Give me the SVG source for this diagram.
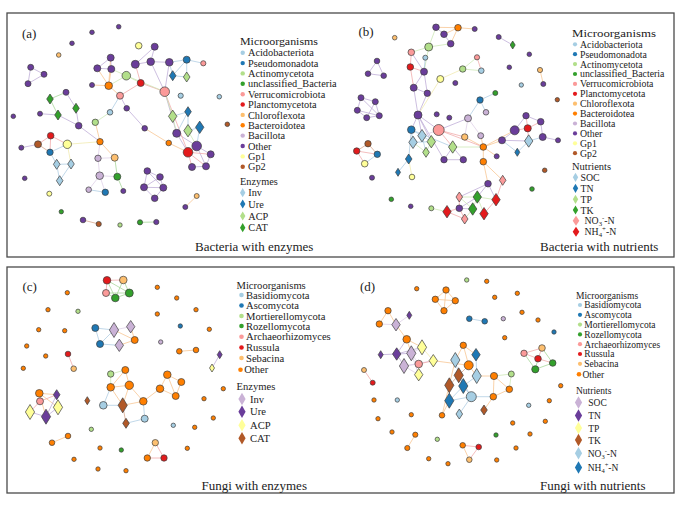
<svg xmlns="http://www.w3.org/2000/svg" xmlns:xlink="http://www.w3.org/1999/xlink" width="685" height="513" viewBox="0 0 685 513">
<style>
.t{font-family:"Liberation Serif","Times New Roman",serif;fill:#222}
.n{stroke:#3d3d3d;stroke-width:.7}
.A{fill:#a6cee3}.B{fill:#1f78b4}.G{fill:#b2df8a}.H{fill:#33a02c}.P{fill:#fb9a99}.R{fill:#e31a1c}.L{fill:#fdbf6f}.O{fill:#ff7f00}.V{fill:#cab2d6}.U{fill:#6a3d9a}.Y{fill:#ffff99}.W{fill:#b15928}
#edges path{fill:none;stroke-width:.9;opacity:.8}
.eu{stroke:#b9a6d4}.eo{stroke:#f7c089}.eg{stroke:#c8e6b0}.eb{stroke:#a9c9e0}.er{stroke:#f0a3a3}.ey{stroke:#efe9a8}.ew{stroke:#d4a084}.ev{stroke:#dccde6}.eh{stroke:#9fd28f}
.frame{fill:#fff;stroke:#4a4a4a;stroke-width:1.3}
</style>
<defs>
<path id="d0" d="M0,-4L2.5,0L0,4L-2.5,0Z"/>
<path id="d1" d="M0,-5L3.3,0L0,5L-3.3,0Z"/>
<path id="d2" d="M0,-6.2L4.2,0L0,6.2L-4.2,0Z"/>
<path id="d3" d="M0,-7.5L4.6,0L0,7.5L-4.6,0Z"/>
<path id="dl" d="M0,-4.6L2.7,0L0,4.6L-2.7,0Z"/>
<path id="dL" d="M0,-6.3L3.6,0L0,6.3L-3.6,0Z"/>
</defs>
<rect width="685" height="513" fill="#fff"/>
<rect class="frame" x="7" y="13" width="667" height="244"/>
<rect class="frame" x="7" y="267" width="667" height="226"/>

<g id="edges">
<!-- panel a -->
<path class="eu" d="M30.7,67.3L44,74.3M44,74.3L28,83.7M30.7,67.3L28,83.7M110.7,57.7L97.3,68.3M110.7,57.7L111.3,69M97.3,68.3L111.3,69M135.3,64.3L150.7,61.7M154.7,46.7L150.7,61.7M154.7,46.7L135.3,64.3M150.7,61.7L169.3,62.3M150.7,61.7L164.7,91.7M169.3,62.3L164.7,91.7M120,95.7L126.7,108.3M126.7,108.3L144.7,128.3M164.7,91.7L176.7,133.3M66,92.3L76,108.3M76,108.3L78.7,125.7M40,113.7L58,115M58,115L78.7,125.7M78.7,125.7L100,141.7M21.3,147.7L38,144.3M176.7,133.3L188,152.3M196.7,146L210.7,154.3M196.7,146L206,166.3M192,167L206,166.3M210.7,154.3L206,166.3M176.7,133.3L196.7,146M147.3,171L160,177M147.3,171L144,187.3M160,177L163.3,187.7M144,187.3L163.3,187.7M144,187.3L154.7,198.3M163.3,187.7L154.7,198.3M147.3,171L163.3,187.7M160,177L144,187.3"/>
<path class="er" d="M135.3,64.3L140.7,83M140.7,83L120,95.7M140.7,83L164.7,91.7M164.7,91.7L188,152.3M50.7,135.7L38,144.3M50.7,135.7L67.3,144.3M50.7,135.7L50,152.3M196.7,146L188,152.3M188,152.3L192,167M188,152.3L210.7,154.3M188,152.3L206,166.3"/>
<path class="eb" d="M169.3,62.3L186.7,59.7M186.7,59.7L203.3,63.3M186.7,59.7L172.7,75.7M186.7,59.7L186.7,77M172.7,75.7L186.7,77M169.3,62.3L172.7,75.7M120,95.7L110,112.3M50,152.3L67.3,144.3M56.7,164.3L71,164M56.7,164.3L59.7,180.7M71,164L59.7,180.7M50,152.3L56.7,164.3M88.7,189.7L105.3,192.3M188,111.7L172.7,116.3M188,111.7L176.7,133.3M188,111.7L188,130.7M188,130.7L199.7,127.3M199.7,127.3L196.7,146"/>
<path class="eo" d="M97.3,68.3L108.7,85.7M111.3,69L108.7,85.7M110.7,57.7L108.7,85.7M108.7,85.7L92,85M120,95.7L108.7,85.7M95.3,122.3L100,141.7M144.7,128.3L168.7,143M168.7,143L188,152.3M100,141.7L114.7,157.7M196.7,196L185.3,207"/>
<path class="eg" d="M111.3,69L126.3,75.7M108.7,85.7L126.3,75.7M126.3,75.7L140.7,83M110,112.3L95.3,122.3M164.7,91.7L172.7,116.3M172.7,116.3L176.7,133.3M188,130.7L196.7,146M126.3,75.7L164.7,91.7"/>
<path class="eh" d="M50,99L66,92.3M50,99L58,115M114.7,157.7L117.3,176.7M117.3,176.7L123.3,191M140,222.3L156.3,222"/>
<path class="ew" d="M38,144.3L50,152.3M83,220L98.7,224"/>
<path class="ey" d="M100,141.7L67.3,144.3M71,164L67.3,144.3"/>
<path class="ev" d="M100,141.7L98,158.3M98,158.3L114.7,157.7M98,158.3L99.7,175.7M99.7,175.7L117.3,176.7M99.7,175.7L105.3,192.3M88.7,189.7L99.7,175.7"/>
<!-- panel b -->
<path class="eu" d="M436,27.3L444,34.3M444,34.3L450.7,43.7M411.3,52.3L424,71.7M424,71.7L413.7,87.7M424,71.7L427.3,93.3M413.7,87.7L427.3,93.3M413.7,87.7L418,115M427.3,93.3L418,115M498.7,37L512.7,45M377,61L368,73.7M368,73.7L383.7,75.7M377,61L383.7,75.7M361,97.7L375.3,101.7M361,97.7L357.3,110.3M375.3,101.7L366.7,117.7M375.3,101.7L379.3,115.7M357.3,110.3L366.7,117.7M357.3,110.3L379.3,115.7M366.7,117.7L379.3,115.7M361,97.7L379.3,115.7M418,115L411.3,129.7M418,115L422,135.7M418,115L438.7,130M418,115L431.3,141.7M418,115L444,159.7M438.7,130L468,118.3M444,159.7L452.7,147M463.3,159.7L452.7,147M444,159.7L463.3,159.7M488,183.7L459.3,197M488,183.7L477.3,197M488,183.7L496,199.7M477.3,197L459.3,208.3M459.3,208.3L472.7,209M526,115.7L540.7,121.7M526,115.7L514.7,130.3M540.7,121.7L542.7,137M514.7,130.3L502,140.3M542.7,137L558,140.3M502,140.3L528.7,141"/>
<path class="eo" d="M436,27.3L458,27.7M458,27.7L474.7,29M458,27.7L450.7,43.7M444,34.3L458,27.7M540,70L543.3,84M480.7,135.7L483.3,147M464.7,137L483.3,147M483.3,147L502,140.3M483.3,147L514.7,130.3M483.3,147L496.7,156.3M483.3,147L483.3,161.7M483.3,161.7L488,183.7M483.3,161.7L502.7,180.3"/>
<path class="eg" d="M436,27.3L428.7,47M428.7,47L450.7,43.7M428.7,47L411.3,52.3M428.7,47L424,71.7M462.7,69L477,57.3M462.7,69L481.3,70.7M426,152.3L413,142.3M431.3,141.7L426,152.3M452.7,147L483.3,147M459.3,197L477.3,197M459.3,197L472.7,209M477.3,197L496,199.7M477.3,197L472.7,209M477.3,197L484,213.7M472.7,209L464.7,219M431.3,208.3L447,211.7"/>
<path class="er" d="M411.3,52.3L410.3,67M410.3,67L424,71.7M410.3,67L413.7,87.7M477,57.3L481.3,70.7M438.7,130L464.7,137M438.7,130L483.3,147M438.7,130L452.7,147M514.7,130.3L527.7,128.3M526,115.7L527.7,128.3M540.7,121.7L527.7,128.3M527.7,128.3L528.7,141M356.7,151L377.3,154.3M356.7,151L364.7,163.7M502.7,180.3L496,199.7M459.3,197L459.3,208.3M447,211.7L459.3,208.3M459.3,208.3L464.7,219M496,199.7L484,213.7M447,211.7L464.7,219"/>
<path class="eb" d="M425.3,57.7L424,71.7M495.3,93L480,100M480,100L486,112.3M480,100L468,118.3M411.3,129.7L422,135.7M411.3,129.7L413,142.3M411.3,129.7L452.7,147M422,135.7L431.3,141.7M413,142.3L431.3,141.7M422,135.7L426,152.3M411.3,129.7L408.7,159M408.7,159L398,172.3M542.7,137L528.7,141M502,140.3L517.3,152.3M528.7,141L517.3,152.3M377.3,154.3L364.7,163.7"/>
<path class="ey" d="M462.7,69L440.3,79M440.3,79L418,115M412,177L408.7,159"/>
<path class="ev" d="M468,118.3L464.7,137M468,118.3L480.7,135.7M438.7,130L422,135.7"/>
<path class="ew" d="M368,143.7L356.7,151M368,143.7L377.3,154.3"/>
<!-- panel c -->
<path class="er" d="M107,280.3L123.3,280M107,280.3L106,293M68,354L73.7,368.7M40,401.3L56.7,394.7M40,401.3L30,412M155.3,442.7L164,458M147.3,458L164,458"/>
<path class="eh" d="M107,280.3L115.3,298M107,280.3L129.3,293M123.3,280L129.3,293M123.3,280L115.3,298M106,293L115.3,298M115.3,298L129.3,293M106,293L129.3,293"/>
<path class="eb" d="M95.3,328L100,344M95.3,328L114,330M100,344L114,330M100,344L119.3,345.3M103.3,405.3L110.7,387.3M103.3,405.3L122.7,405.3M143.3,401.3L144.7,418.7M144.7,418.7L126,423.3"/>
<path class="eo" d="M114,330L134.7,340M130.7,326.7L134.7,340M119.3,345.3L134.7,340M179.3,351.3L196,350M125.3,370L110.7,387.3M125.3,370L129.3,385.3M110.7,387.3L129.3,385.3M110.7,387.3L122.7,405.3M129.3,385.3L143.3,401.3M129.3,385.3L122.7,405.3M122.7,405.3L143.3,401.3M143.3,401.3L160,388.7M160,388.7L167.3,374.7M160,388.7L175.7,396M167.3,374.7L181.3,382M181.3,382L175.7,396M167.3,374.7L175.7,396M39.3,393.3L56.7,394.7M39.3,393.3L58,407.3M39.3,393.3L46,416.7M52,442.7L68,436M155.3,442.7L147.3,458"/>
<path class="ev" d="M114,330L130.7,326.7"/>
<path class="eu" d="M219.7,354.7L212,368M30,412L46,416.7M46,416.7L58,407.3M56.7,394.7L46,416.7"/>
<path class="eg" d="M110.7,374L125.3,370M110.7,374L110.7,387.3"/>
<path class="ew" d="M122.7,405.3L126,423.3"/>
<!-- panel d -->
<path class="eo" d="M446,290L435.3,299.3M446,290L455.3,300.7M435.3,299.3L444,310.7M455.3,300.7L444,310.7M446,290L444,310.7M435.3,299.3L455.3,300.7M388,310.7L379.3,324M388,310.7L396,324.7M396,324.7L406.7,339.3M406.7,339.3L422,347.3M406.7,339.3L411.3,353.3M433.3,360.7L468.7,365.3M463.3,345.3L476,354.7M463.3,345.3L455.3,360M463.3,345.3L468.7,365.3M468.7,365.3L476.7,376M476.7,376L494,376M449.3,400.7L442,415.3M493.3,396.7L484,410M455.3,360L442,415.3M494,376L493.3,396.7M509.3,389.3L493.3,396.7M494,376L509.3,389.3M462.7,445.3L469.3,459.7M415.3,434.7L407.3,448"/>
<path class="ev" d="M379.3,324L396,324.7M396,324.7L409.3,315.3M404,366L418.7,364M411.3,353.3L418.7,364M411.3,353.3L418.7,374.7M404,366L433.3,360.7M411.3,353.3L422,347.3M404,366L418.7,374.7"/>
<path class="eb" d="M469.3,318.7L484.7,321.3M455.3,360L458.7,375.3M458.7,375.3L463.3,386M476.7,376L463.3,386M463.3,386L449.3,400.7M471.3,396.7L463.3,386M471.3,396.7L449.3,400.7M471.3,396.7L493.3,396.7M471.3,396.7L459.3,414M476,354.7L476.7,376M458.7,375.3L471.3,396.7"/>
<path class="eu" d="M380.7,354.7L396.7,354M396.7,354L411.3,353.3M396.7,354L422,347.3M396.7,354L404,366M406.7,339.3L396.7,354"/>
<path class="er" d="M418.7,364L433.3,360.7M364,370L372.7,382.7M524,353.3L542,348M524,353.3L538,358.7M542,348L538,358.7M538,358.7L552.7,363M462.7,445.3L478.7,447M478.7,447L469.3,459.7"/>
<path class="ey" d="M422,347.3L433.3,360.7"/>
<path class="ew" d="M468.7,365.3L458.7,375.3M458.7,375.3L449.3,385.3M449.3,385.3L449.3,400.7"/>
<path class="eg" d="M494,376L511.3,374M511.3,374L509.3,389.3"/>
<path class="eh" d="M524,353.3L535.3,369.3M542,348L552.7,363M535.3,369.3L552.7,363M538,358.7L535.3,369.3"/>
</g>

<g id="panel-a-nodes">
<g id="a1"><circle class="n U" cx="118.7" cy="26.7" r="2.3"/></g>
<g id="a2"><circle class="n U" cx="92" cy="32.3" r="2.3"/></g>
<g id="a3"><circle class="n U" cx="72" cy="43.3" r="2.3"/></g>
<g id="a4"><circle class="n L" cx="58.7" cy="55" r="2.3"/></g>
<g id="a5"><circle class="n U" cx="30.7" cy="67.3" r="3"/></g>
<g id="a6"><circle class="n U" cx="44" cy="74.3" r="3"/></g>
<g id="a7"><circle class="n U" cx="28" cy="83.7" r="3"/></g>
<g id="a8"><circle class="n Y" cx="138.7" cy="45.7" r="3.3"/></g>
<g id="a9"><circle class="n U" cx="154.7" cy="46.7" r="3.5"/></g>
<g id="a10"><circle class="n U" cx="110.7" cy="57.7" r="3.5"/></g>
<g id="a11"><circle class="n U" cx="97.3" cy="68.3" r="3.5"/></g>
<g id="a12"><circle class="n U" cx="111.3" cy="69" r="3.5"/></g>
<g id="a13"><circle class="n U" cx="135.3" cy="64.3" r="4"/></g>
<g id="a14"><circle class="n U" cx="150.7" cy="61.7" r="3.8"/></g>
<g id="a15"><circle class="n U" cx="169.3" cy="62.3" r="3.8"/></g>
<g id="a16"><circle class="n B" cx="186.7" cy="59.7" r="3.5"/></g>
<g id="a17"><circle class="n P" cx="203.3" cy="63.3" r="2.6"/></g>
<g id="a18"><circle class="n G" cx="126.3" cy="75.7" r="4.3"/></g>
<g id="a19"><circle class="n R" cx="140.7" cy="83" r="3.5"/></g>
<g id="a20"><use href="#d1" x="172.7" y="75.7" class="n B"/></g>
<g id="a21"><use href="#d1" x="186.7" y="77" class="n G"/></g>
<g id="a22"><circle class="n U" cx="92" cy="85" r="2.5"/></g>
<g id="a23"><circle class="n O" cx="108.7" cy="85.7" r="3.8"/></g>
<g id="a24"><circle class="n P" cx="120" cy="95.7" r="3.5"/></g>
<g id="a25"><circle class="n P" cx="164.7" cy="91.7" r="4.8"/></g>
<g id="a26"><circle class="n A" cx="180.7" cy="95.7" r="2.6"/></g>
<g id="a27"><circle class="n A" cx="219.3" cy="96.7" r="2.3"/></g>
<g id="a28"><use href="#d1" x="50" y="99" class="n H"/></g>
<g id="a29"><circle class="n U" cx="66" cy="92.3" r="3"/></g>
<g id="a30"><use href="#d1" x="76" y="108.3" class="n H"/></g>
<g id="a31"><use href="#d1" x="58" y="115" class="n H"/></g>
<g id="a32"><circle class="n U" cx="40" cy="113.7" r="2.5"/></g>
<g id="a33"><circle class="n U" cx="13.3" cy="116.3" r="2.3"/></g>
<g id="a34"><circle class="n U" cx="78.7" cy="125.7" r="3.3"/></g>
<g id="a35"><circle class="n U" cx="126.7" cy="108.3" r="2.8"/></g>
<g id="a36"><circle class="n A" cx="110" cy="112.3" r="2.8"/></g>
<g id="a37"><circle class="n G" cx="95.3" cy="122.3" r="3.2"/></g>
<g id="a38"><use href="#d2" x="172.7" y="116.3" class="n G"/></g>
<g id="a39"><use href="#d1" x="188" y="111.7" class="n B"/></g>
<g id="a40"><circle class="n U" cx="144.7" cy="128.3" r="2.8"/></g>
<g id="a41"><circle class="n U" cx="176.7" cy="133.3" r="4"/></g>
<g id="a42"><use href="#d2" x="188" y="130.7" class="n G"/></g>
<g id="a43"><use href="#d2" x="199.7" y="127.3" class="n B"/></g>
<g id="a44"><circle class="n W" cx="227.3" cy="124.3" r="2.3"/></g>
<g id="a45"><circle class="n R" cx="50.7" cy="135.7" r="3.3"/></g>
<g id="a46"><circle class="n W" cx="38" cy="144.3" r="3.5"/></g>
<g id="a47"><circle class="n U" cx="21.3" cy="147.7" r="2.5"/></g>
<g id="a48"><circle class="n Y" cx="67.3" cy="144.3" r="4.2"/></g>
<g id="a49"><circle class="n B" cx="50" cy="152.3" r="3.2"/></g>
<g id="a50"><circle class="n O" cx="100" cy="141.7" r="3.2"/></g>
<g id="a51"><circle class="n O" cx="168.7" cy="143" r="2.8"/></g>
<g id="a52"><circle class="n U" cx="196.7" cy="146" r="4.8"/></g>
<g id="a53"><circle class="n R" cx="188" cy="152.3" r="4.8"/></g>
<g id="a54"><circle class="n U" cx="210.7" cy="154.3" r="3.5"/></g>
<g id="a55"><circle class="n U" cx="192" cy="167" r="3.5"/></g>
<g id="a56"><circle class="n U" cx="206" cy="166.3" r="3.5"/></g>
<g id="a57"><use href="#d1" x="56.7" y="164.3" class="n A"/></g>
<g id="a58"><use href="#d1" x="71" y="164" class="n A"/></g>
<g id="a59"><use href="#d1" x="59.7" y="180.7" class="n A"/></g>
<g id="a60"><circle class="n V" cx="98" cy="158.3" r="3.2"/></g>
<g id="a61"><circle class="n L" cx="114.7" cy="157.7" r="3.5"/></g>
<g id="a62"><circle class="n V" cx="99.7" cy="175.7" r="3.8"/></g>
<g id="a63"><circle class="n H" cx="117.3" cy="176.7" r="3.5"/></g>
<g id="a64"><circle class="n V" cx="88.7" cy="189.7" r="2.8"/></g>
<g id="a65"><circle class="n B" cx="105.3" cy="192.3" r="3.2"/></g>
<g id="a66"><circle class="n U" cx="123.3" cy="191" r="2.5"/></g>
<g id="a67"><circle class="n U" cx="147.3" cy="171" r="3.3"/></g>
<g id="a68"><circle class="n U" cx="160" cy="177" r="3.3"/></g>
<g id="a69"><circle class="n U" cx="144" cy="187.3" r="3.5"/></g>
<g id="a70"><circle class="n U" cx="163.3" cy="187.7" r="3.5"/></g>
<g id="a71"><circle class="n U" cx="154.7" cy="198.3" r="3.3"/></g>
<g id="a72"><circle class="n U" cx="24.7" cy="178.3" r="2.3"/></g>
<g id="a73"><circle class="n Y" cx="49.3" cy="193.7" r="2.5"/></g>
<g id="a74"><circle class="n L" cx="196.7" cy="196" r="2.5"/></g>
<g id="a75"><circle class="n U" cx="185.3" cy="207" r="2.5"/></g>
<g id="a76"><circle class="n H" cx="61.3" cy="211.7" r="2.2"/></g>
<g id="a77"><circle class="n U" cx="83" cy="220" r="2.8"/></g>
<g id="a78"><circle class="n W" cx="98.7" cy="224" r="2.6"/></g>
<g id="a79"><circle class="n G" cx="120" cy="225" r="2.2"/></g>
<g id="a80"><circle class="n H" cx="140" cy="222.3" r="2.6"/></g>
<g id="a81"><circle class="n U" cx="156.3" cy="222" r="2.6"/></g>
</g>

<g id="panel-b-nodes">
<g id="b1"><circle class="n U" cx="436" cy="27.3" r="3.3"/></g>
<g id="b2"><circle class="n O" cx="458" cy="27.7" r="3.3"/></g>
<g id="b3"><circle class="n U" cx="474.7" cy="29" r="2.5"/></g>
<g id="b4"><circle class="n L" cx="394.7" cy="37.7" r="2.3"/></g>
<g id="b5"><circle class="n U" cx="444" cy="34.3" r="3.3"/></g>
<g id="b6"><circle class="n U" cx="450.7" cy="43.7" r="3.3"/></g>
<g id="b7"><circle class="n G" cx="428.7" cy="47" r="4"/></g>
<g id="b8"><circle class="n P" cx="411.3" cy="52.3" r="3.3"/></g>
<g id="b9"><circle class="n A" cx="425.3" cy="57.7" r="2.5"/></g>
<g id="b10"><circle class="n R" cx="410.3" cy="67" r="3.3"/></g>
<g id="b11"><circle class="n U" cx="424" cy="71.7" r="3.5"/></g>
<g id="b12"><circle class="n U" cx="498.7" cy="37" r="2.5"/></g>
<g id="b13"><use href="#d0" x="512.7" y="45" class="n H"/></g>
<g id="b14"><circle class="n U" cx="529.3" cy="54.3" r="2.3"/></g>
<g id="b15"><circle class="n U" cx="377" cy="61" r="2.8"/></g>
<g id="b16"><circle class="n U" cx="368" cy="73.7" r="2.8"/></g>
<g id="b17"><circle class="n U" cx="383.7" cy="75.7" r="2.8"/></g>
<g id="b18"><circle class="n P" cx="477" cy="57.3" r="2.6"/></g>
<g id="b19"><circle class="n G" cx="462.7" cy="69" r="3.2"/></g>
<g id="b20"><circle class="n A" cx="481.3" cy="70.7" r="2.8"/></g>
<g id="b21"><circle class="n Y" cx="440.3" cy="79" r="3.5"/></g>
<g id="b22"><circle class="n U" cx="455.3" cy="83" r="2.5"/></g>
<g id="b23"><circle class="n U" cx="509.3" cy="67.3" r="2.3"/></g>
<g id="b24"><circle class="n L" cx="540" cy="70" r="2.6"/></g>
<g id="b25"><circle class="n A" cx="521.3" cy="85" r="2.2"/></g>
<g id="b26"><circle class="n U" cx="543.3" cy="84" r="2.5"/></g>
<g id="b27"><circle class="n U" cx="413.7" cy="87.7" r="3.5"/></g>
<g id="b28"><circle class="n U" cx="427.3" cy="93.3" r="3.2"/></g>
<g id="b29"><circle class="n H" cx="495.3" cy="93" r="2.5"/></g>
<g id="b30"><circle class="n B" cx="480" cy="100" r="3.2"/></g>
<g id="b31"><circle class="n W" cx="557.3" cy="99.7" r="2.2"/></g>
<g id="b32"><circle class="n U" cx="361" cy="97.7" r="3"/></g>
<g id="b33"><circle class="n U" cx="375.3" cy="101.7" r="3"/></g>
<g id="b34"><circle class="n U" cx="357.3" cy="110.3" r="3"/></g>
<g id="b35"><circle class="n U" cx="366.7" cy="117.7" r="3"/></g>
<g id="b36"><circle class="n U" cx="379.3" cy="115.7" r="3"/></g>
<g id="b37"><circle class="n V" cx="486" cy="112.3" r="2.8"/></g>
<g id="b38"><circle class="n U" cx="418" cy="115" r="4"/></g>
<g id="b39"><circle class="n U" cx="436.7" cy="114.3" r="2.5"/></g>
<g id="b40"><circle class="n U" cx="449.3" cy="117.7" r="2.5"/></g>
<g id="b41"><circle class="n V" cx="468" cy="118.3" r="3.5"/></g>
<g id="b42"><circle class="n P" cx="438.7" cy="130" r="5.5"/></g>
<g id="b43"><circle class="n B" cx="411.3" cy="129.7" r="3.8"/></g>
<g id="b44"><use href="#d2" x="422" y="135.7" class="n A"/></g>
<g id="b45"><use href="#d2" x="413" y="142.3" class="n A"/></g>
<g id="b46"><use href="#d2" x="431.3" y="141.7" class="n G"/></g>
<g id="b47"><use href="#d1" x="426" y="152.3" class="n G"/></g>
<g id="b48"><use href="#d2" x="452.7" y="147" class="n G"/></g>
<g id="b49"><use href="#d1" x="408.7" y="159" class="n B"/></g>
<g id="b50"><use href="#d0" x="398" y="172.3" class="n B"/></g>
<g id="b51"><circle class="n Y" cx="412" cy="177" r="2.8"/></g>
<g id="b52"><circle class="n L" cx="464.7" cy="137" r="3.2"/></g>
<g id="b53"><circle class="n V" cx="480.7" cy="135.7" r="3"/></g>
<g id="b54"><circle class="n O" cx="483.3" cy="147" r="3.3"/></g>
<g id="b55"><circle class="n U" cx="496.7" cy="156.3" r="2.5"/></g>
<g id="b56"><circle class="n U" cx="444" cy="159.7" r="3.2"/></g>
<g id="b57"><circle class="n U" cx="463.3" cy="159.7" r="3.2"/></g>
<g id="b58"><circle class="n O" cx="483.3" cy="161.7" r="3.3"/></g>
<g id="b59"><circle class="n U" cx="526" cy="115.7" r="3.2"/></g>
<g id="b60"><circle class="n U" cx="540.7" cy="121.7" r="3.3"/></g>
<g id="b61"><circle class="n U" cx="514.7" cy="130.3" r="4.5"/></g>
<g id="b62"><circle class="n R" cx="527.7" cy="128.3" r="3.6"/></g>
<g id="b63"><circle class="n U" cx="502" cy="140.3" r="3.5"/></g>
<g id="b64"><use href="#d2" x="528.7" y="141" class="n A"/></g>
<g id="b65"><circle class="n U" cx="542.7" cy="137" r="3.5"/></g>
<g id="b66"><circle class="n U" cx="558" cy="140.3" r="2.5"/></g>
<g id="b67"><use href="#d0" x="517.3" y="152.3" class="n B"/></g>
<g id="b68"><circle class="n W" cx="544.7" cy="170.3" r="2.3"/></g>
<g id="b69"><circle class="n W" cx="368" cy="143.7" r="3.2"/></g>
<g id="b70"><circle class="n R" cx="356.7" cy="151" r="3.2"/></g>
<g id="b71"><circle class="n B" cx="377.3" cy="154.3" r="3.2"/></g>
<g id="b72"><circle class="n Y" cx="364.7" cy="163.7" r="3.3"/></g>
<g id="b73"><circle class="n U" cx="372" cy="177.7" r="2.5"/></g>
<g id="b74"><circle class="n U" cx="488" cy="183.7" r="3.3"/></g>
<g id="b75"><use href="#d1" x="502.7" y="180.3" class="n P"/></g>
<g id="b76"><circle class="n H" cx="532" cy="189" r="2.3"/></g>
<g id="b77"><circle class="n H" cx="391.3" cy="199.3" r="2.3"/></g>
<g id="b78"><circle class="n U" cx="410.7" cy="206.3" r="2.3"/></g>
<g id="b79"><circle class="n G" cx="431.3" cy="208.3" r="2.5"/></g>
<g id="b80"><use href="#d1" x="459.3" y="197" class="n P"/></g>
<g id="b81"><use href="#d2" x="477.3" y="197" class="n H"/></g>
<g id="b82"><use href="#d2" x="496" y="199.7" class="n R"/></g>
<g id="b83"><use href="#d2" x="447" y="211.7" class="n R"/></g>
<g id="b84"><circle class="n U" cx="459.3" cy="208.3" r="3.3"/></g>
<g id="b85"><use href="#d2" x="472.7" y="209" class="n H"/></g>
<g id="b86"><use href="#d2" x="484" y="213.7" class="n R"/></g>
<g id="b87"><use href="#d1" x="464.7" y="219" class="n P"/></g>
</g>

<g id="panel-c-nodes">
<g id="c1"><circle class="n R" cx="107" cy="280.3" r="3.8"/></g>
<g id="c2"><circle class="n L" cx="123.3" cy="280" r="3.8"/></g>
<g id="c3"><circle class="n P" cx="106" cy="293" r="3.5"/></g>
<g id="c4"><circle class="n H" cx="115.3" cy="298" r="3.8"/></g>
<g id="c5"><circle class="n H" cx="129.3" cy="293" r="4"/></g>
<g id="c6"><circle class="n O" cx="67.3" cy="292.7" r="2.2"/></g>
<g id="c7"><circle class="n O" cx="48" cy="309.7" r="2.2"/></g>
<g id="c8"><circle class="n G" cx="78" cy="311.3" r="2.2"/></g>
<g id="c9"><circle class="n O" cx="38.7" cy="329.7" r="2.2"/></g>
<g id="c10"><circle class="n O" cx="64.7" cy="330.7" r="2.2"/></g>
<g id="c11"><circle class="n O" cx="26.7" cy="346" r="2.2"/></g>
<g id="c12"><circle class="n O" cx="45.7" cy="356" r="2.2"/></g>
<g id="c13"><circle class="n O" cx="23.3" cy="368.3" r="2.2"/></g>
<g id="c14"><circle class="n O" cx="157.3" cy="287.3" r="2.2"/></g>
<g id="c15"><circle class="n O" cx="176.7" cy="298" r="2.2"/></g>
<g id="c16"><circle class="n O" cx="157.3" cy="314" r="2.2"/></g>
<g id="c17"><circle class="n O" cx="196" cy="309.7" r="2.2"/></g>
<g id="c18"><circle class="n O" cx="209.3" cy="329.3" r="2.2"/></g>
<g id="c19"><circle class="n B" cx="180.3" cy="326" r="2.2"/></g>
<g id="c20"><circle class="n V" cx="160.7" cy="342" r="2.2"/></g>
<g id="c21"><circle class="n B" cx="95.3" cy="328" r="3.5"/></g>
<g id="c22"><circle class="n B" cx="100" cy="344" r="3.5"/></g>
<g id="c23"><use href="#d3" x="114" y="330" class="n V"/></g>
<g id="c24"><use href="#d2" x="130.7" y="326.7" class="n V"/></g>
<g id="c25"><use href="#d2" x="119.3" y="345.3" class="n V"/></g>
<g id="c26"><circle class="n O" cx="134.7" cy="340" r="3.5"/></g>
<g id="c27"><circle class="n R" cx="68" cy="354" r="2.8"/></g>
<g id="c28"><circle class="n L" cx="73.7" cy="368.7" r="2.8"/></g>
<g id="c29"><circle class="n O" cx="179.3" cy="351.3" r="2.8"/></g>
<g id="c30"><circle class="n O" cx="196" cy="350" r="2.8"/></g>
<g id="c31"><use href="#d0" x="219.7" y="354.7" class="n U"/></g>
<g id="c32"><use href="#d0" x="212" y="368" class="n Y"/></g>
<g id="c33"><circle class="n G" cx="110.7" cy="374" r="3.2"/></g>
<g id="c34"><circle class="n O" cx="125.3" cy="370" r="3.5"/></g>
<g id="c35"><circle class="n O" cx="110.7" cy="387.3" r="3.8"/></g>
<g id="c36"><circle class="n O" cx="129.3" cy="385.3" r="4.2"/></g>
<g id="c37"><circle class="n O" cx="167.3" cy="374.7" r="3.8"/></g>
<g id="c38"><circle class="n O" cx="181.3" cy="382" r="3.5"/></g>
<g id="c39"><circle class="n O" cx="160" cy="388.7" r="3.8"/></g>
<g id="c40"><circle class="n O" cx="175.7" cy="396" r="3.5"/></g>
<g id="c41"><circle class="n O" cx="143.3" cy="401.3" r="3.8"/></g>
<g id="c42"><use href="#d3" x="122.7" y="405.3" class="n W"/></g>
<g id="c43"><use href="#d0" x="87.3" y="400.7" class="n W"/></g>
<g id="c44"><use href="#d1" x="126" y="423.3" class="n W"/></g>
<g id="c45"><circle class="n A" cx="103.3" cy="405.3" r="3.8"/></g>
<g id="c46"><circle class="n A" cx="144.7" cy="418.7" r="3.5"/></g>
<g id="c47"><circle class="n O" cx="223.3" cy="388.7" r="2.2"/></g>
<g id="c48"><circle class="n O" cx="204" cy="398.7" r="2.2"/></g>
<g id="c49"><circle class="n O" cx="213.3" cy="418" r="2.2"/></g>
<g id="c50"><circle class="n O" cx="194.7" cy="427.3" r="2.2"/></g>
<g id="c51"><circle class="n A" cx="173.3" cy="425.3" r="2.2"/></g>
<g id="c52"><circle class="n O" cx="39.3" cy="393.3" r="3.8"/></g>
<g id="c53"><use href="#d1" x="56.7" y="394.7" class="n U"/></g>
<g id="c54"><circle class="n P" cx="40" cy="401.3" r="3.5"/></g>
<g id="c55"><use href="#d3" x="30" y="412" class="n Y"/></g>
<g id="c56"><use href="#d3" x="46" y="416.7" class="n U"/></g>
<g id="c57"><use href="#d3" x="58" y="407.3" class="n Y"/></g>
<g id="c58"><circle class="n G" cx="91.3" cy="429.3" r="2.2"/></g>
<g id="c59"><circle class="n O" cx="52" cy="442.7" r="2.8"/></g>
<g id="c60"><circle class="n O" cx="68" cy="436" r="2.8"/></g>
<g id="c61"><circle class="n O" cx="100" cy="448" r="2.2"/></g>
<g id="c62"><circle class="n H" cx="121.3" cy="450" r="2.2"/></g>
<g id="c63"><circle class="n O" cx="74" cy="459.3" r="2.2"/></g>
<g id="c64"><circle class="n O" cx="98" cy="469" r="2.2"/></g>
<g id="c65"><circle class="n O" cx="126" cy="470.7" r="2.2"/></g>
<g id="c66"><circle class="n O" cx="187.3" cy="448.3" r="2.2"/></g>
<g id="c67"><circle class="n L" cx="155.3" cy="442.7" r="3.2"/></g>
<g id="c68"><circle class="n O" cx="147.3" cy="458" r="3.2"/></g>
<g id="c69"><circle class="n R" cx="164" cy="458" r="3.2"/></g>
</g>

<g id="panel-d-nodes">
<g id="d1n"><circle class="n G" cx="466.7" cy="280" r="2.2"/></g>
<g id="d2n"><circle class="n O" cx="486.7" cy="281.3" r="2.2"/></g>
<g id="d3n"><circle class="n O" cx="416.7" cy="288.7" r="2.2"/></g>
<g id="d4n"><circle class="n O" cx="494.7" cy="297.3" r="2.2"/></g>
<g id="d5n"><circle class="n O" cx="517.3" cy="293.3" r="2.2"/></g>
<g id="d6n"><circle class="n O" cx="446" cy="290" r="3.2"/></g>
<g id="d7n"><circle class="n O" cx="435.3" cy="299.3" r="3.2"/></g>
<g id="d8n"><circle class="n O" cx="455.3" cy="300.7" r="3.2"/></g>
<g id="d9n"><circle class="n O" cx="444" cy="310.7" r="3.2"/></g>
<g id="d10n"><circle class="n O" cx="388" cy="310.7" r="3.2"/></g>
<g id="d11n"><circle class="n O" cx="379.3" cy="324" r="3.2"/></g>
<g id="d12n"><use href="#d2" x="396" y="324.7" class="n V"/></g>
<g id="d13n"><use href="#d0" x="409.3" y="315.3" class="n U"/></g>
<g id="d14n"><circle class="n B" cx="469.3" cy="318.7" r="2.8"/></g>
<g id="d15n"><circle class="n B" cx="484.7" cy="321.3" r="2.8"/></g>
<g id="d16n"><circle class="n V" cx="503.3" cy="318.7" r="2.2"/></g>
<g id="d17n"><circle class="n O" cx="522" cy="312.3" r="2.2"/></g>
<g id="d18n"><circle class="n O" cx="538" cy="320" r="2.2"/></g>
<g id="d19n"><circle class="n O" cx="504.7" cy="337.7" r="2.2"/></g>
<g id="d20n"><circle class="n B" cx="554" cy="332" r="2.2"/></g>
<g id="d21n"><circle class="n O" cx="406.7" cy="339.3" r="3.8"/></g>
<g id="d22n"><use href="#d3" x="422" y="347.3" class="n Y"/></g>
<g id="d23n"><use href="#d3" x="411.3" y="353.3" class="n V"/></g>
<g id="d24n"><use href="#d2" x="396.7" y="354" class="n U"/></g>
<g id="d25n"><use href="#d0" x="380.7" y="354.7" class="n U"/></g>
<g id="d26n"><circle class="n P" cx="418.7" cy="364" r="3.8"/></g>
<g id="d27n"><use href="#d3" x="404" y="366" class="n V"/></g>
<g id="d28n"><use href="#d2" x="433.3" y="360.7" class="n Y"/></g>
<g id="d29n"><use href="#d2" x="418.7" y="374.7" class="n Y"/></g>
<g id="d30n"><circle class="n L" cx="364" cy="370" r="2.5"/></g>
<g id="d31n"><circle class="n R" cx="372.7" cy="382.7" r="2.5"/></g>
<g id="d32n"><circle class="n O" cx="463.3" cy="345.3" r="3.2"/></g>
<g id="d33n"><use href="#d2" x="476" y="354.7" class="n B"/></g>
<g id="d34n"><use href="#d3" x="455.3" y="360" class="n A"/></g>
<g id="d35n"><circle class="n O" cx="468.7" cy="365.3" r="4.5"/></g>
<g id="d36n"><use href="#d3" x="458.7" y="375.3" class="n W"/></g>
<g id="d37n"><use href="#d3" x="476.7" y="376" class="n A"/></g>
<g id="d38n"><use href="#d3" x="449.3" y="385.3" class="n W"/></g>
<g id="d39n"><use href="#d3" x="463.3" y="386" class="n B"/></g>
<g id="d40n"><circle class="n A" cx="471.3" cy="396.7" r="5"/></g>
<g id="d41n"><use href="#d3" x="449.3" y="400.7" class="n B"/></g>
<g id="d42n"><circle class="n O" cx="494" cy="376" r="3.6"/></g>
<g id="d43n"><circle class="n G" cx="511.3" cy="374" r="3"/></g>
<g id="d44n"><circle class="n O" cx="509.3" cy="389.3" r="3.3"/></g>
<g id="d45n"><circle class="n O" cx="493.3" cy="396.7" r="3.3"/></g>
<g id="d46n"><use href="#d1" x="484" y="410" class="n W"/></g>
<g id="d47n"><use href="#d1" x="459.3" y="414" class="n A"/></g>
<g id="d48n"><circle class="n O" cx="442" cy="415.3" r="2.8"/></g>
<g id="d49n"><circle class="n P" cx="524" cy="353.3" r="3.2"/></g>
<g id="d50n"><circle class="n L" cx="542" cy="348" r="3.3"/></g>
<g id="d51n"><circle class="n R" cx="538" cy="358.7" r="3.3"/></g>
<g id="d52n"><circle class="n H" cx="552.7" cy="363" r="3.3"/></g>
<g id="d53n"><circle class="n H" cx="535.3" cy="369.3" r="3.6"/></g>
<g id="d54n"><circle class="n O" cx="560.7" cy="385.7" r="2.2"/></g>
<g id="d55n"><circle class="n O" cx="549.3" cy="400.7" r="2.2"/></g>
<g id="d56n"><circle class="n A" cx="528.7" cy="405.3" r="2.2"/></g>
<g id="d57n"><circle class="n O" cx="545.3" cy="421.3" r="2.2"/></g>
<g id="d58n"><circle class="n O" cx="512.7" cy="423" r="2.2"/></g>
<g id="d59n"><circle class="n O" cx="530" cy="434" r="2.2"/></g>
<g id="d60n"><circle class="n H" cx="496" cy="435" r="2.2"/></g>
<g id="d61n"><circle class="n O" cx="516" cy="448" r="2.2"/></g>
<g id="d62n"><circle class="n O" cx="374" cy="400" r="2.2"/></g>
<g id="d63n"><circle class="n A" cx="397.3" cy="400" r="2.2"/></g>
<g id="d64n"><circle class="n O" cx="411.3" cy="414.7" r="2.2"/></g>
<g id="d65n"><circle class="n O" cx="378" cy="418.7" r="2.2"/></g>
<g id="d66n"><circle class="n O" cx="392" cy="432" r="2.2"/></g>
<g id="d67n"><circle class="n O" cx="415.3" cy="434.7" r="2.6"/></g>
<g id="d68n"><circle class="n O" cx="407.3" cy="448" r="2.6"/></g>
<g id="d69n"><circle class="n G" cx="437.3" cy="439.3" r="2.2"/></g>
<g id="d70n"><circle class="n O" cx="462.7" cy="445.3" r="2.8"/></g>
<g id="d71n"><circle class="n R" cx="478.7" cy="447" r="2.8"/></g>
<g id="d72n"><circle class="n L" cx="469.3" cy="459.7" r="2.8"/></g>
<g id="d73n"><circle class="n O" cx="428.7" cy="458.7" r="2.2"/></g>
<g id="d74n"><circle class="n O" cx="448" cy="463.7" r="2.2"/></g>
<g id="d75n"><circle class="n O" cx="496.7" cy="460" r="2.2"/></g>
</g>

<g id="labels" class="t">
<text x="22" y="37.5" font-size="13">(a)</text>
<text x="358.5" y="36" font-size="13">(b)</text>
<text x="22.5" y="290.5" font-size="13">(c)</text>
<text x="360" y="291" font-size="13">(d)</text>
<text x="195" y="250.5" font-size="13">Bacteria with enzymes</text>
<text x="540" y="251" font-size="13">Bacteria with nutrients</text>
<text x="201.5" y="489.5" font-size="13">Fungi with enzymes</text>
<text x="540" y="489.5" font-size="13">Fungi with nutrients</text>
</g>

<g id="legend-a">
<text class="t" x="240" y="45.3" font-size="10.8" textLength="78" lengthAdjust="spacingAndGlyphs">Microorganisms</text>
<circle class="A" cx="242.7" cy="52.7" r="2.2"/><circle class="B" cx="242.7" cy="63.1" r="2.2"/><circle class="G" cx="242.7" cy="73.4" r="2.2"/><circle class="H" cx="242.7" cy="83.8" r="2.2"/><circle class="P" cx="242.7" cy="94.2" r="2.2"/><circle class="R" cx="242.7" cy="104.5" r="2.2"/><circle class="L" cx="242.7" cy="114.9" r="2.2"/><circle class="O" cx="242.7" cy="125.3" r="2.2"/><circle class="V" cx="242.7" cy="135.6" r="2.2"/><circle class="U" cx="242.7" cy="146" r="2.2"/><circle class="Y" cx="242.7" cy="156.4" r="2.2"/><circle class="W" cx="242.7" cy="166.7" r="2.2"/>
<g class="t" font-size="10.3">
<text x="248" y="56.3">Acidobacteriota</text><text x="248" y="66.7">Pseudomonadota</text><text x="248" y="77">Actinomycetota</text><text x="248" y="87.4">unclassified_Bacteria</text><text x="248" y="97.8">Verrucomicrobiota</text><text x="248" y="108.1">Planctomycetota</text><text x="248" y="118.5">Chloroflexota</text><text x="248" y="128.9">Bacteroidotea</text><text x="248" y="139.2">Bacillota</text><text x="248" y="149.6">Other</text><text x="248" y="160">Gp1</text><text x="248" y="170.3">Gp2</text>
<text x="240" y="185.3">Enzymes</text>
<text x="248.3" y="196.3">Inv</text><text x="248.3" y="207.6">Ure</text><text x="248.3" y="219.6">ACP</text><text x="248.3" y="231.3">CAT</text>
</g>
<use href="#dl" x="242.7" y="192.7" class="A"/><use href="#dl" x="242.7" y="204" class="B"/><use href="#dl" x="242.7" y="216" class="G"/><use href="#dl" x="242.7" y="227.7" class="H"/>
</g>

<g id="legend-b">
<text class="t" x="572" y="36.8" font-size="10.5" textLength="84" lengthAdjust="spacingAndGlyphs">Microorganisms</text>
<circle class="A" cx="575" cy="44.3" r="2.1"/><circle class="B" cx="575" cy="54.2" r="2.1"/><circle class="G" cx="575" cy="64.1" r="2.1"/><circle class="H" cx="575" cy="74" r="2.1"/><circle class="P" cx="575" cy="83.9" r="2.1"/><circle class="R" cx="575" cy="93.8" r="2.1"/><circle class="L" cx="575" cy="103.7" r="2.1"/><circle class="O" cx="575" cy="113.6" r="2.1"/><circle class="V" cx="575" cy="123.5" r="2.1"/><circle class="U" cx="575" cy="133.4" r="2.1"/><circle class="Y" cx="575" cy="143.3" r="2.1"/><circle class="W" cx="575" cy="153.2" r="2.1"/>
<g class="t" font-size="9.8">
<text x="580" y="47.7">Acidobacteriota</text><text x="580" y="57.6">Pseudomonadota</text><text x="580" y="67.5">Actinomycetota</text><text x="580" y="77.4">unclassified_Bacteria</text><text x="580" y="87.3">Verrucomicrobiota</text><text x="580" y="97.2">Planctomycetota</text><text x="580" y="107.1">Chloroflexota</text><text x="580" y="117">Bacteroidotea</text><text x="580" y="126.9">Bacillota</text><text x="580" y="136.8">Other</text><text x="580" y="146.7">Gp1</text><text x="580" y="156.6">Gp2</text>
<text x="572" y="169.7" font-size="10.5">Nutrients</text>
<text x="580.5" y="180.8">SOC</text><text x="580.5" y="191.8">TN</text><text x="580.5" y="202.8">TP</text><text x="580.5" y="213.5">TK</text>
<text x="584.5" y="224.2">NO<tspan dy="2" font-size="6.8">3</tspan><tspan dy="-6" font-size="6.8">-</tspan><tspan dy="4">-N</tspan></text>
<text x="584.5" y="235.2">NH<tspan dy="2" font-size="6.8">4</tspan><tspan dy="-6" font-size="6.8">+</tspan><tspan dy="4">-N</tspan></text>
</g>
<use href="#dl" x="575.5" y="177.3" class="A"/><use href="#dl" x="575.5" y="188.3" class="B"/><use href="#dl" x="575.5" y="199.3" class="G"/><use href="#dl" x="575.5" y="210" class="H"/><use href="#d1" x="576" y="220.7" class="P"/><use href="#d1" x="576" y="231.7" class="R"/>
</g>

<g id="legend-c">
<g class="t" font-size="10.6">
<text x="236.5" y="288.8">Microorganisms</text>
<text x="246" y="298.7">Basidiomycota</text><text x="246" y="309.1">Ascomycota</text><text x="246" y="319.5">Mortierellomycota</text><text x="246" y="329.7">Rozellomycota</text><text x="246" y="340.3">Archaeorhizomyces</text><text x="246" y="351.1">Russula</text><text x="246" y="361.6">Sebacina</text><text x="244.2" y="373.2">Other</text>
<text x="236.5" y="389.6">Enzymes</text>
<text x="250" y="402.7">Inv</text><text x="250" y="415.4">Ure</text><text x="250" y="428.9">ACP</text><text x="250" y="441.8">CAT</text>
</g>
<circle class="A" cx="241.5" cy="295" r="2.3"/><circle class="B" cx="241.5" cy="305.5" r="2.3"/><circle class="G" cx="241.5" cy="316" r="2.3"/><circle class="H" cx="241.5" cy="326" r="2.3"/><circle class="P" cx="241.5" cy="336.7" r="2.3"/><circle class="R" cx="241.5" cy="347.5" r="2.3"/><circle class="L" cx="241.5" cy="358" r="2.3"/><circle class="O" cx="240.5" cy="369.7" r="2.3"/>
<use href="#dL" x="242" y="399" class="V"/><use href="#dL" x="242" y="411.7" class="U"/><use href="#dL" x="242" y="425.3" class="Y"/><use href="#dL" x="242" y="438.3" class="W"/>
</g>

<g id="legend-d">
<g class="t" font-size="9.5">
<text x="576" y="298.5">Microorganisms</text>
<text x="584.3" y="308.3">Basidiomycota</text><text x="584.3" y="318.1">Ascomycota</text><text x="584.3" y="327.9">Mortierellomycota</text><text x="584.3" y="337.7">Rozellomycota</text><text x="584.3" y="347.5">Archaeorhizomyces</text><text x="584.3" y="357.3">Russula</text><text x="584.3" y="367.1">Sebacina</text><text x="582.5" y="377.6">Other</text>
<text x="576" y="393.8">Nutrients</text>
<text x="588.3" y="406">SOC</text><text x="588.3" y="419">TN</text><text x="588.3" y="431.5">TP</text><text x="588.3" y="443.5">TK</text>
<text x="587.7" y="456.8">NO<tspan dy="2" font-size="6.5">3</tspan><tspan dy="-6" font-size="6.5">-</tspan><tspan dy="4">-N</tspan></text>
<text x="587.7" y="471">NH<tspan dy="2" font-size="6.5">4</tspan><tspan dy="-6" font-size="6.5">+</tspan><tspan dy="4">-N</tspan></text>
</g>
<circle class="A" cx="580" cy="305" r="2.1"/><circle class="B" cx="580" cy="314.8" r="2.1"/><circle class="G" cx="580" cy="324.6" r="2.1"/><circle class="H" cx="580" cy="334.4" r="2.1"/><circle class="P" cx="580" cy="344.2" r="2.1"/><circle class="R" cx="580" cy="354" r="2.1"/><circle class="L" cx="580" cy="363.8" r="2.1"/><circle class="O" cx="579" cy="374.3" r="2.3"/>
<use href="#dL" x="578.5" y="402.5" class="V"/><use href="#dL" x="578.5" y="415.5" class="U"/><use href="#dL" x="578.5" y="428" class="Y"/><use href="#dL" x="578.5" y="440" class="W"/><use href="#dL" x="578.5" y="453.3" class="A"/><use href="#dL" x="578.5" y="467.5" class="B"/>
</g>
</svg>
